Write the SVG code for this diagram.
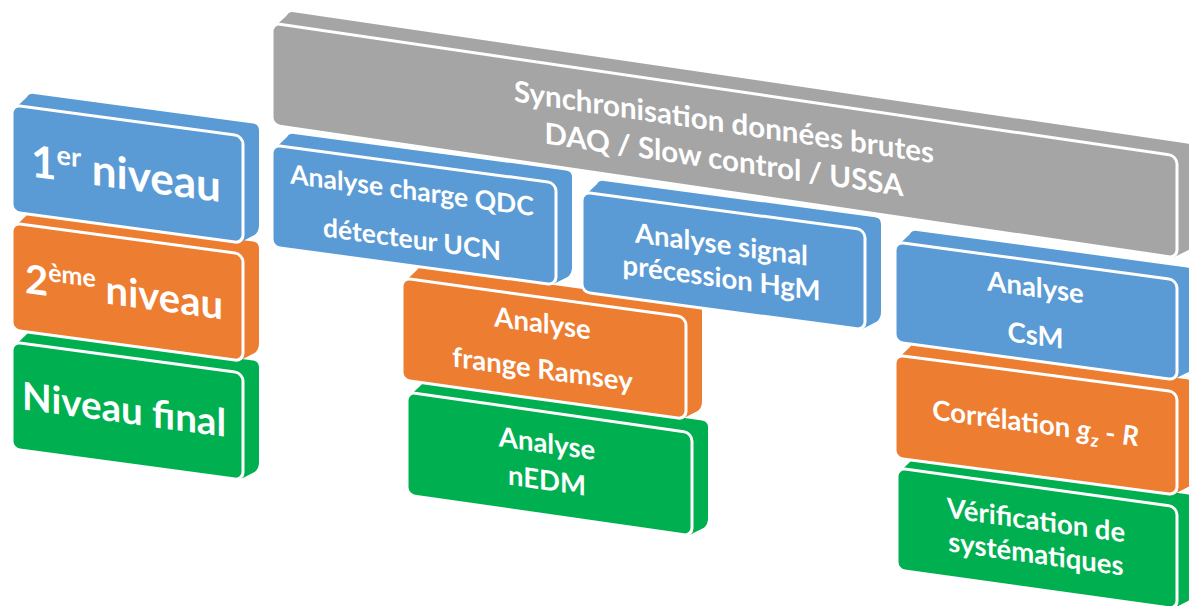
<svg xmlns="http://www.w3.org/2000/svg" width="1189" height="606" viewBox="0 0 1189 606">
<style>
.blue{fill:#5B9BD5}
.orange{fill:#ED7D31}
.green{fill:#00B050}
.gray{fill:#A5A5A5}
.face{stroke:#fff;stroke-width:3}
.t{fill:#fff;font-family:Lato,"Open Sans",sans-serif;font-weight:700;text-anchor:middle}
.big{font-size:42px}
.mid{font-size:29.5px}
.sm{font-size:27.5px}
</style>
<rect width="1189" height="606" fill="#fff"/>

<g id="sync" transform="translate(272,23) skewY(8.36)">
<path class="gray" d="M3,3 L15,-10 Q17,-14 22,-14 H915 Q921,-14 921,-8 V82 Q921,88 917,92 L903,101 L3,101 Z"/>
<rect class="gray face" x="0" y="0" width="905" height="102" rx="8"/>
<text class="t mid" x="452" y="43">Synchronisation données brutes</text>
<text class="t mid" x="452" y="80.5">DAQ / Slow control / USSA</text>
</g>

<g id="nedm" transform="translate(407,392) skewY(8.19)">
<path class="green" d="M3,3 L15,-10 Q17,-14 22,-14 H295 Q301,-14 301,-8 V83 Q301,89 297,93 L283,102 L3,102 Z"/>
<rect class="green face" x="0" y="0" width="285" height="103" rx="8"/>
<text class="t sm" x="140" y="41">Analyse</text>
<text class="t sm" x="140" y="78">nEDM</text>
</g>

<g id="verif" transform="translate(897,468) skewY(7.91)">
<path class="green" d="M3,3 L15,-10 Q17,-14 22,-14 H290 Q296,-14 296,-8 V82 Q296,88 292,92 L278,101 L3,101 Z"/>
<rect class="green face" x="0" y="0" width="280" height="102" rx="8"/>
<text class="t sm" x="139" y="42.7">Vérification de</text>
<text class="t sm" x="139" y="76.2">systématiques</text>
</g>

<g id="level3" transform="translate(12,342) skewY(7.69)">
<path class="green" d="M3,3 L15,-10 Q17,-14 22,-14 H241 Q247,-14 247,-8 V87 Q247,93 243,97 L229,106 L3,106 Z"/>
<rect class="green face" x="0" y="0" width="231" height="107" rx="8"/>
<text class="t" font-size="38.5" x="112" y="66">Niveau final</text>
</g>

<g id="ramsey" transform="translate(402,278) skewY(7.86)">
<path class="orange" d="M3,3 L15,-10 Q17,-14 22,-14 H294 Q300,-14 300,-8 V82 Q300,88 296,92 L282,101 L3,101 Z"/>
<rect class="orange face" x="0" y="0" width="284" height="102" rx="8"/>
<text class="t sm" x="140.5" y="35.6">Analyse</text>
<text class="t sm" x="140.5" y="81.6">frange Ramsey</text>
</g>

<g id="correl" transform="translate(895,355) skewY(7.46)">
<path class="orange" d="M3,3 L15,-10 Q17,-14 22,-14 H292 Q298,-14 298,-8 V83 Q298,89 294,93 L280,102 L3,102 Z"/>
<rect class="orange face" x="0" y="0" width="282" height="103" rx="8"/>
<text class="t sm" x="140.5" y="59.6">Corrélation <tspan font-style="italic">g</tspan><tspan font-style="italic" font-size="18" dy="6">z</tspan><tspan dy="-6"> - </tspan><tspan font-style="italic">R</tspan></text>
</g>

<g id="level2" transform="translate(12,223) skewY(7.69)">
<path class="orange" d="M3,3 L15,-10 Q17,-14 22,-14 H241 Q247,-14 247,-8 V87 Q247,93 243,97 L229,106 L3,106 Z"/>
<rect class="orange face" x="0" y="0" width="231" height="107" rx="8"/>
<text class="t" font-size="40" x="112" y="68">2<tspan font-size="25" dy="-15">ème</tspan><tspan dy="15"> niveau</tspan></text>
</g>

<g id="qdc" transform="translate(272,145) skewY(7.63)">
<path class="blue" d="M3,3 L15,-10 Q17,-14 22,-14 H294 Q300,-14 300,-8 V82 Q300,88 296,92 L282,101 L3,101 Z"/>
<rect class="blue face" x="0" y="0" width="284" height="102" rx="8"/>
<text class="t" font-size="26.5" x="140" y="36">Analyse charge QDC</text>
<text class="t" font-size="26.5" x="140" y="84.7">détecteur UCN</text>
</g>

<g id="hgm" transform="translate(582,192) skewY(7.63)">
<path class="blue" d="M3,3 L15,-10 Q17,-14 22,-14 H293 Q299,-14 299,-8 V80 Q299,86 295,90 L281,99 L3,99 Z"/>
<rect class="blue face" x="0" y="0" width="283" height="100" rx="8"/>
<text class="t sm" x="139.5" y="43.3">Analyse signal</text>
<text class="t sm" x="139.5" y="76.8">précession HgM</text>
</g>

<g id="csm" transform="translate(895,242) skewY(7.69)">
<path class="blue" d="M3,3 L15,-10 Q17,-14 22,-14 H292 Q298,-14 298,-8 V80 Q298,86 294,90 L280,99 L3,99 Z"/>
<rect class="blue face" x="0" y="0" width="282" height="100" rx="8"/>
<text class="t sm" x="140.5" y="36">Analyse</text>
<text class="t sm" x="140.5" y="84">CsM</text>
</g>

<g id="level1" transform="translate(12,105) skewY(7.69)">
<path class="blue" d="M3,3 L15,-10 Q17,-14 22,-14 H241 Q247,-14 247,-8 V87 Q247,93 243,97 L229,106 L3,106 Z"/>
<rect class="blue face" x="0" y="0" width="231" height="107" rx="8"/>
<text class="t" font-size="44" x="114" y="69">1<tspan font-size="27" dy="-16">er</tspan><tspan dy="16"> niveau</tspan></text>
</g>
</svg>
